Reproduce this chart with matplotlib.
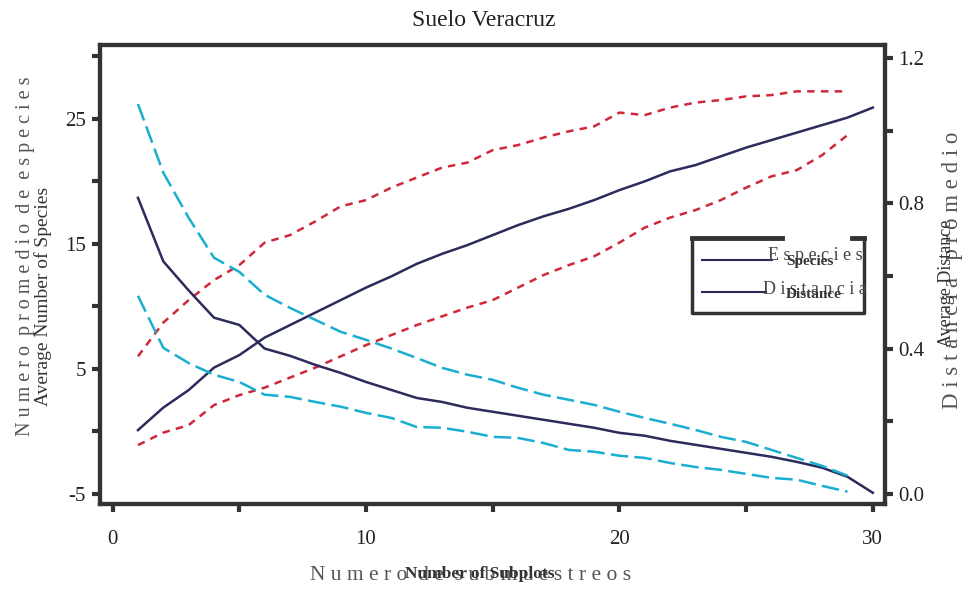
import matplotlib
matplotlib.use("Agg")
import matplotlib.pyplot as plt
from matplotlib.lines import Line2D

plt.rcParams['font.family'] = ['Liberation Serif', 'DejaVu Serif']
plt.rcParams['axes.unicode_minus'] = False

subplots = list(range(1, 31))

species = [0.1, 1.9, 3.3, 5.1, 6.1, 7.5, 8.5, 9.5, 10.5, 11.5, 12.4, 13.4, 14.2, 14.9, 15.7,
           16.5, 17.2, 17.8, 18.5, 19.3, 20.0, 20.8, 21.3, 22.0, 22.7, 23.3, 23.9, 24.5, 25.1, 25.9]
species_hi = [6.0, 8.7, 10.5, 12.1, 13.3, 15.1, 15.7, 16.8, 18.0, 18.5, 19.5, 20.3, 21.1, 21.5, 22.5,
              22.9, 23.5, 24.0, 24.4, 25.5, 25.3, 25.9, 26.3, 26.5, 26.8, 26.9, 27.2, 27.2, 27.2]
species_lo = [-1.1, -0.1, 0.5, 2.1, 2.9, 3.5, 4.3, 5.1, 6.0, 6.9, 7.7, 8.5, 9.2, 9.9, 10.5,
              11.5, 12.5, 13.3, 14.0, 15.1, 16.3, 17.1, 17.7, 18.5, 19.5, 20.4, 20.9, 22.1, 23.7]

distance = [0.815, 0.64, 0.56, 0.485, 0.465, 0.40, 0.38, 0.355, 0.333, 0.308, 0.286, 0.264, 0.253,
            0.237, 0.226, 0.215, 0.204, 0.193, 0.182, 0.168, 0.16, 0.146, 0.135, 0.124, 0.113,
            0.102, 0.088, 0.072, 0.047, 0.003]
distance_hi = [1.073, 0.884, 0.76, 0.65, 0.611, 0.548, 0.512, 0.479, 0.446, 0.424, 0.40, 0.374,
               0.347, 0.328, 0.314, 0.292, 0.273, 0.259, 0.245, 0.226, 0.209, 0.193, 0.176,
               0.157, 0.143, 0.121, 0.099, 0.077, 0.05]
distance_lo = [0.545, 0.402, 0.36, 0.328, 0.308, 0.273, 0.267, 0.253, 0.24, 0.223, 0.209, 0.184,
               0.182, 0.171, 0.157, 0.154, 0.14, 0.121, 0.116, 0.105, 0.099, 0.085, 0.074,
               0.066, 0.055, 0.044, 0.039, 0.022, 0.006]

navy = "#2b2b5c"
red = "#d0283a"
cyan = "#1aaed0"
frame = "#333333"

fig = plt.figure(figsize=(9.68, 5.90), dpi=100)
ax = fig.add_axes([0.103, 0.146, 0.811, 0.778])
ax2 = ax.twinx()

ci_x = subplots[:29]
ax.plot(subplots, species, color=navy, lw=1.8)
ax.plot(ci_x, species_hi, color=red, lw=1.8, dashes=(3, 2.5))
ax.plot(ci_x, species_lo, color=red, lw=1.8, dashes=(3, 2.5))
ax2.plot(subplots, distance, color=navy, lw=1.8)
ax2.plot(ci_x, distance_hi, color=cyan, lw=1.8, dashes=(7, 2.5))
ax2.plot(ci_x, distance_lo, color=cyan, lw=1.8, dashes=(7, 2.5))

ax.set_xlim(-0.51, 30.47)
ax.set_ylim(-5.8, 30.92)
ax2.set_ylim(-0.0275, 1.236)

ax.set_xticks([0, 10, 20, 30])
ax.set_xticks([5, 15, 25], minor=True)
ax.set_yticks([-5, 5, 15, 25])
ax.set_yticks([0, 10, 20, 30], minor=True)
ax2.set_yticks([0.0, 0.4, 0.8, 1.2])
ax2.set_yticklabels(["0.0", "0.4", "0.8", "1.2"])
ax2.set_yticks([0.2, 0.6, 1.0], minor=True)

for a in (ax, ax2):
    for s in a.spines.values():
        s.set_linewidth(3)
        s.set_color(frame)
    a.tick_params(which='both', direction='out', length=6, width=3, color=frame,
                  labelsize=15, labelcolor="#222222")
ax.tick_params(axis='x', which='both', pad=13)
ax.tick_params(axis='y', which='both', pad=4)
ax2.tick_params(axis='y', which='both', pad=4)

fig.text(0.5, 0.965, "Suelo Veracruz", ha='center', va='center', fontsize=17, color="#222222")

fig.text(0.486, 0.025, "N u m e r o  d e  s u b m u e s t r e o s", ha='center', va='center',
         fontsize=15.5, color="#555555")
fig.text(0.496, 0.027, "Number of Subplots", ha='center', va='center', fontsize=12.5,
         fontweight='bold', color="#333333")

fig.text(0.026, 0.566, "N u m e r o  p r o m e d i o  d e  e s p e c i e s", rotation=90,
         ha='center', va='center', fontsize=14.5, color="#555555")
fig.text(0.045, 0.497, "Average Number of Species", rotation=90, ha='center', va='center',
         fontsize=14, color="#333333")

fig.text(0.984, 0.542, "D i s t a n c i a   p r o m e d i o", rotation=90, ha='center', va='center',
         fontsize=16.5, color="#555555")
fig.text(0.978, 0.52, "Average Distance", rotation=90, ha='center', va='center',
         fontsize=13, color="#333333")

# legend drawn by hand: box with a broken top edge
def fx(px):
    return px / 968

def fy(py):
    return 1 - py / 590

fig.add_artist(Line2D([fx(692), fx(692), fx(864), fx(864)], [fy(239), fy(313), fy(313), fy(239)],
                      color=frame, lw=2.5))
fig.add_artist(Line2D([fx(692), fx(782)], [fy(238), fy(238)], color=frame, lw=3.5))
fig.add_artist(Line2D([fx(852), fx(864)], [fy(238), fy(238)], color=frame, lw=3.5))
fig.add_artist(Line2D([fx(702), fx(772)], [fy(260), fy(260)], color=navy, lw=1.5))
fig.add_artist(Line2D([fx(702), fx(766)], [fy(292), fy(292)], color=navy, lw=1.5))
fig.text(fx(768), fy(256), "E s p e c i e s", ha='left', va='center', fontsize=13, color="#444444")
fig.text(fx(786), fy(261), "Species", ha='left', va='center', fontsize=11, fontweight='bold',
         color="#333333")
fig.text(fx(763), fy(290), "D i s t a n c i a", ha='left', va='center', fontsize=13, color="#444444")
fig.text(fx(786), fy(294), "Distance", ha='left', va='center', fontsize=11, fontweight='bold',
         color="#333333")

fig.savefig("out.png", dpi=100)
